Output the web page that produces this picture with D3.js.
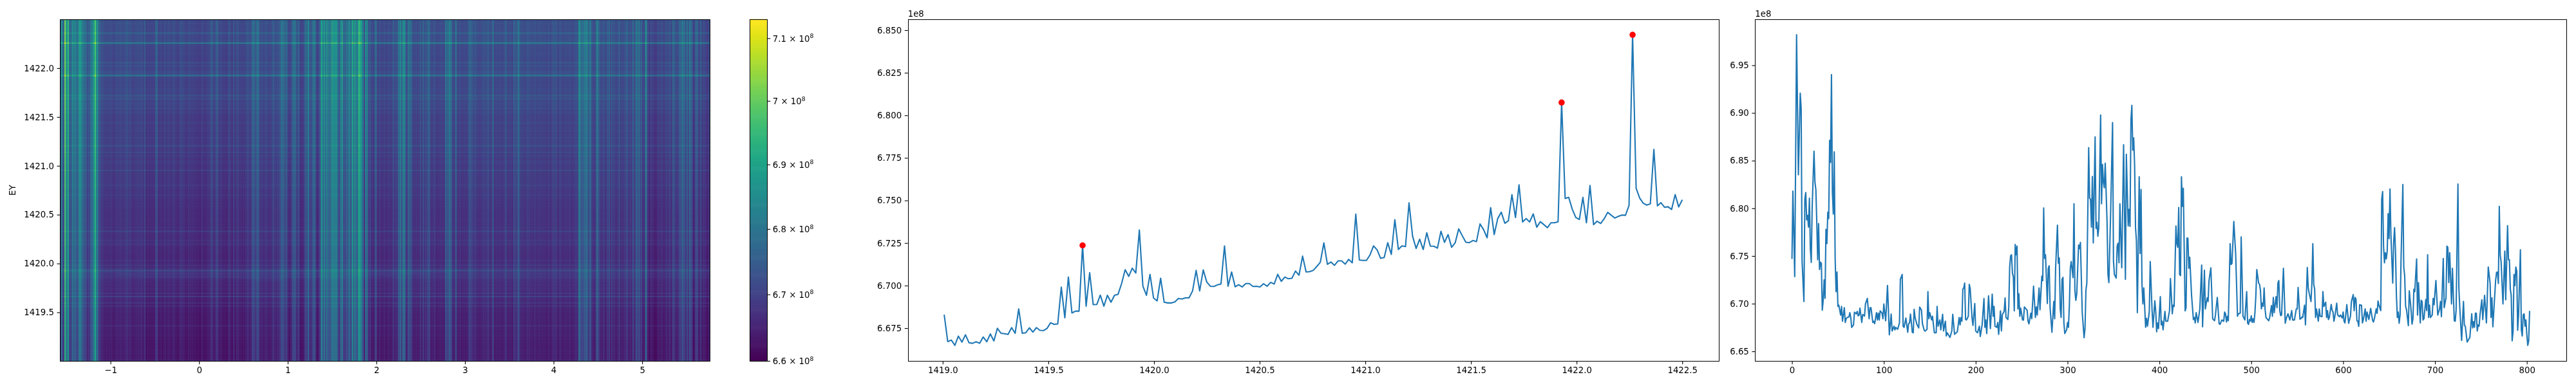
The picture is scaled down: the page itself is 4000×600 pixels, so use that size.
<!DOCTYPE html>
<html><head><meta charset="utf-8">
<script src="https://cdn.jsdelivr.net/npm/d3@7"></script>
<style>
html,body{margin:0;padding:0;background:#fff;width:4000px;height:600px;overflow:hidden}
#wrap{position:relative;width:4000px;height:600px}
canvas,svg{position:absolute;left:0;top:0}
text{font-family:"DejaVu Sans";font-size:13.3px;fill:#000}
</style></head><body><div id="wrap"></div>
<script>
// Values in units of 1e8
const rowValues=[
6.6829,6.6671,6.6680,6.6649,6.6703,6.6668,6.6711,6.6664,6.6661,6.6670,6.6661,6.6698,6.6670,6.6716,6.6675,6.6749,6.6720,6.6717,6.6713,6.6753,6.6720,6.6863,6.6720,6.6723,6.6752,
6.6727,6.6753,6.6737,6.6736,6.6749,6.6782,6.6772,6.6775,6.6991,6.6811,6.7050,6.6839,6.6850,6.6850,6.7236,6.6879,6.7076,6.6888,6.6889,6.6944,6.6879,6.6943,6.6902,6.6943,6.6949,6.7012,6.7093,6.7054,6.7102,6.7074,6.7326,6.6996,6.6943,6.7066,6.6927,6.6910,6.7043,6.6902,6.6898,6.6898,6.6904,6.6924,6.6921,6.6928,6.6928,6.6969,6.7089,6.6969,6.7092,6.7021,6.6996,6.6995,6.7004,6.7009,6.7233,6.6996,6.7080,6.6993,6.7005,6.6992,6.7012,6.7012,6.6995,6.6996,6.6992,6.7011,6.6996,6.7019,6.7009,6.7066,6.7025,6.7050,6.7040,6.7043,6.7085,6.7061,6.7173,6.7080,6.7082,6.7089,6.7112,6.7137,6.7251,6.7125,6.7138,6.7119,6.7145,6.7145,6.7126,6.7154,6.7134,
6.7420,6.7150,6.7148,6.7148,6.7180,6.7233,6.7210,6.7160,6.7165,6.7252,6.7183,6.7387,6.7212,6.7233,6.7229,6.7486,6.7290,6.7218,6.7272,6.7212,6.7310,6.7232,6.7231,6.7220,6.7319,6.7254,6.7299,6.7225,6.7251,6.7333,6.7293,6.7255,6.7252,6.7265,6.7258,6.7362,6.7329,6.7281,6.7458,6.7300,6.7394,6.7431,6.7366,6.7381,6.7534,6.7400,6.7592,6.7374,6.7394,6.7374,6.7421,6.7343,6.7375,6.7358,6.7340,6.7369,6.7369,6.7375,6.8075,6.7512,6.7518,6.7449,6.7400,6.7388,6.7518,6.7369,6.7588,6.7358,6.7378,6.7365,6.7393,6.7430,6.7413,6.7397,6.7407,6.7414,6.7413,6.7471,6.8473,6.7572,6.7514,
6.7484,6.7473,6.7480,6.7800,6.7468,6.7487,6.7460,6.7463,6.7447,6.7534,6.7462,6.7504];
const markedValues=[6.7236,6.8075,6.8473];
const columnPoints=[
[0,6.7469],[1,6.8181],[3,6.7283],[5,6.982],[7,6.8351],[9,6.9208],[10,6.9048],[11,6.7448],[13,6.7022],[14,6.8093],[15,6.8166],[16,6.7879],[17,6.7926],[18,6.7804],[19,6.8106],[20,6.7577],[21,6.7433],[22,6.8016],[24,6.8599],[25,6.8274],[26,6.8197],[27,6.7861],[28,6.7461],[29,6.7840],[30,6.7358],[31,6.7435],[32,6.7422],[33,6.6932],[34,6.7035],[35,6.7249],[36,6.7056],[37,6.7779],[38,6.7629],[39,6.7959],[40,6.7892],[41,6.8713],[42,6.8481],[43,6.9402],[44,6.8171],[45,6.7939],[46,6.8592],[47,6.7474],[48,6.7126],[49,6.7332],[50,6.6971],[51,6.6984],[53,6.6880],[54,6.6971],[55,6.6816],[57,6.6958],[58,6.6803],[59,6.6842],[60,6.6855],[62,6.6860],[63,6.6906],[64,6.6855],[65,6.6751],[67,6.6777],[68,6.6911],[70,6.6893],[71,6.6919],[72,6.6873],[73,6.6880],[74,6.6953],[76,6.6803],[77,6.6886],[79,6.6870],[80,6.6996],[82,6.7056],[84,6.6842],[85,6.6958],[86,6.6958],[88,6.6803],[89,6.6816],[90,6.6790],[92,6.6906],[93,6.6829],[94,6.6901],[95,6.6829],[96,6.6924],[98,6.6901],[99,6.6842],[100,6.6996],[102,6.6821],[104,6.7190],[106,6.6674],[108,6.6891],[109,6.6713],[111,6.6764],[112,6.6725],[113,6.6751],[115,6.6731],[117,6.6798],[118,6.7255],[120,6.7306],[121,6.6764],[122,6.6751],[124,6.6849],[126,6.6700],[127,6.6790],[128,6.6798],[129,6.6891],[131,6.6700],[132,6.6695],[133,6.6940],[134,6.6855],[136,6.6782],[138,6.6746],[139,6.6965],[141,6.6932],[142,6.6790],[144,6.6720],[145,6.6713],[147,6.6731],[148,6.7126],[149,6.6842],[150,6.6906],[152,6.6829],
[153,6.6868],[154,6.6777],[155,6.6695],[157,6.6695],[158,6.6971],[159,6.6764],[161,6.6829],[162,6.6726],[164,6.6888],[165,6.6713],[167,6.6816],[168,6.6661],[169,6.6695],[172,6.6646],[174,6.6713],[175,6.6888],[177,6.6679],[180,6.6705],[182,6.6855],[183,6.6777],[184,6.6855],[185,6.6816],[186,6.7152],[187,6.7165],[188,6.7216],[189,6.6834],[190,6.6829],[192,6.6868],[193,6.7203],[194,6.7159],[196,6.6855],[197,6.6772],[199,6.7002],[200,6.6713],[202,6.6695],[204,6.6764],[205,6.6656],[207,6.6777],[209,6.7054],[210,6.6752],[211,6.6829],[212,6.6687],[214,6.7082],[216,6.6739],[218,6.7100],[219,6.6868],[220,6.6971],[221,6.6764],[223,6.6752],[224,6.6803],[225,6.6679],[227,6.6924],[228,6.6713],[229,6.6886],[231,6.6919],[232,6.7061],[233,6.6855],[235,6.6834],[236,6.6958],[237,6.7384],[238,6.7500],[239,6.7513],[240,6.7319],[241,6.7281],[242,6.6924],[243,6.7621],[244,6.7513],[245,6.7603],[246,6.6945],[247,6.7105],[248,6.6868],[249,6.6953],[251,6.6829],[252,6.6829],[253,6.6966],[256,6.6932],[257,6.6816],[258,6.6788],[260,6.6901],[261,6.6842],[263,6.7183],[265,6.6855],[266,6.6966],[267,6.6881],[269,6.7165],[270,6.6937],[272,6.7288],[273,6.7242],[274,6.8003],[275,6.7474],[276,6.7513],[278,6.7002],[279,6.7371],[280,6.7397],[281,6.6958],[283,6.6700],[285,6.7023],[286,6.6842],[287,6.7371],[289,6.7823],[290,6.7423],[291,6.7479],[292,6.6945],[293,6.6855],[294,6.7255],[295,6.7276],[296,6.6803],[297,6.6687],[299,6.6726],[300,6.6803],[301,6.6752],[302,6.6984],[303,6.7371],[304,6.7441],[306,6.7273],[307,6.8047],[308,6.7139],[309,6.7035],[310,6.7100],[312,6.7616],[313,6.7577],[314,6.7642],[316,6.6906],[318,6.6643],[319,6.6739],[320,6.7139],[321,6.7216],[323,6.8636],[324,6.8107],[325,6.8094],[326,6.7802],[327,6.8334],[328,6.7637],[330,6.8749],[331,6.7789],[332,6.7854],[333,6.7707],[334,6.7797],[336,6.8979],[337,6.8047],[338,6.8460],[339,6.8274],[340,6.8215],[341,6.8473],[343,6.7861],[344,6.7306],[345,6.7221],[347,6.7990],[349,6.8899],[350,6.7448],[351,6.7306],[353,6.7268],[354,6.7603],[355,6.7634],[356,6.7428],[357,6.8047],[359,6.7376],[361,6.8667],[363,6.7255],[364,6.8566],[366,6.7815],[367,6.7990],[368,6.7810],[369,6.8920],[370,6.9080],[371,6.8610],[372,6.8739],[373,6.8455],[374,6.7797],[375,6.7655],[376,6.6906],[378,6.8331],[379,6.7526],[380,6.8197],[381,6.7216],[382,6.6997],[383,6.7165],[385,6.6752],[386,6.6847],[387,6.6764],[389,6.6919],[390,6.7441],[392,6.6932],[393,6.6752],[395,6.7030],[396,6.6919],[397,6.6705],[398,6.6798],[399,6.6739],[401,6.7074],[402,6.6777],[403,6.6816],[404,6.6726],[406,6.6919],[407,6.6816],[409,6.6816],[411,6.6927],[412,6.7263],[413,6.7087],[414,6.6894],[415,6.6984],[416,6.6971],[418,6.7815],[419,6.7629],[420,6.7590],[421,6.8008],[422,6.7306],[423,6.7294],[424,6.8331],[425,6.8021],[426,6.8210],[427,6.7577],[428,6.6924],[429,6.6958],[430,6.7688],[431,6.7686],[432,6.7371],[433,6.7487],[435,6.7087],[437,6.6834],[438,6.6855],[439,6.6798],[440,6.6906],[442,6.6803],[444,6.6945],[446,6.7405],[447,6.6757],[449,6.7350],[450,6.6945],[452,6.7061],[453,6.7023],[454,6.7242],[456,6.7376],[458,6.6842],[460,6.6821],[461,6.6881],[463,6.7066],[465,6.6790],[466,6.6783],[468,6.6829],[470,6.6816],[471,6.6912],[472,6.6894],[473,6.6808],[474,6.6868],[475,6.6821],[477,6.7629],[478,6.7410],[479,6.7423],[481,6.7861],[483,6.7526],[485,6.6868],[486,6.6894],[488,6.6901],[489,6.7699],[491,6.6868],[493,6.6829],[495,6.7126],[496,6.6798],[497,6.6783],[498,6.6834],[499,6.6816],[500,6.6873],[501,6.6803],[502,6.6842],[503,6.6803],
[504,6.6906],[505,6.7087],[506,6.7358],[508,6.7216],[509,6.7203],[510,6.7139],[511,6.6945],[512,6.7005],[513,6.6971],[514,6.7165],[515,6.6945],[516,6.6855],[519,6.6821],[520,6.6855],[522,6.6979],[523,6.6868],[524,6.7066],[525,6.6906],[527,6.7074],[528,6.6958],[529,6.7216],[530,6.7242],[531,6.6932],[532,6.6875],[533,6.6881],[535,6.7371],[537,6.6795],[538,6.6842],[540,6.6894],[542,6.6829],[544,6.6927],[545,6.6829],[547,6.6829],[549,6.6945],[550,6.6945],[551,6.7170],[553,6.6837],[554,6.6842],[555,6.6860],[556,6.6855],[558,6.6984],[559,6.6777],[561,6.7379],[562,6.7165],[563,6.7113],[565,6.7023],[566,6.7216],[567,6.7629],[568,6.7203],[569,6.7152],[570,6.6855],[571,6.6945],[573,6.6816],[574,6.6945],[575,6.6868],[577,6.6863],[578,6.7126],[579,6.6971],[581,6.7015],[582,6.6855],[583,6.6927],[584,6.6834],[585,6.6855],[587,6.6992],[588,6.6932],[589,6.6912],[590,6.6816],[591,6.6868],[593,6.7005],[594,6.6881],[595,6.6873],[596,6.6863],[597,6.6881],[599,6.6850],[600,6.6912],[601,6.6816],[602,6.6798],[604,6.6989],[606,6.6795],[608,6.6868],[609,6.7023],[611,6.7095],[612,6.6927],[613,6.7066],[614,6.7048],[615,6.6821],[616,6.6816],[617,6.6762],[618,6.6989],[620,6.6984],[621,6.6798],[622,6.6834],[624,6.6945],[625,6.6816],[626,6.6912],[628,6.6834],[630,6.6950],[632,6.6829],[633,6.6808],[634,6.6842],[636,6.6945],[637,6.6899],[638,6.7028],[639,6.6984],[641,6.6927],[642,6.8094],[643,6.8176],[644,6.7603],[645,6.7428],[646,6.7534],[647,6.7469],[648,6.7552],[649,6.7944],[650,6.7681],[651,6.8202],[652,6.7732],[654,6.7216],[655,6.7642],[656,6.7797],[657,6.7552],[658,6.7087],[659,6.6855],[660,6.6912],[661,6.6795],[662,6.6881],[663,6.7448],[665,6.8249],[666,6.7384],[667,6.7294],[668,6.6971],[669,6.6937],[671,6.6770],[672,6.7134],[674,6.6932],[675,6.6785],[676,6.6842],[677,6.7152],[678,6.7126],[680,6.7469],[681,6.6881],[682,6.7221],[684,6.6798],[685,6.7035],[686,6.7023],[687,6.6829],[688,6.6842],[690,6.7043],[691,6.6927],[692,6.7513],[693,6.6855],[694,6.6984],[695,6.6855],[697,6.6881],[698,6.7056],[699,6.6989],[701,6.7242],[703,6.6881],[705,6.6945],[706,6.7023],[707,6.6863],[709,6.7474],[710,6.6958],[712,6.7061],[713,6.7603],[714,6.7590],[715,6.7221],[716,6.7534],[718,6.6997],[719,6.7371],[721,6.6821],[722,6.6816],[723,6.6932],[725,6.8254],[726,6.7165],[727,6.6958],[729,6.6615],[731,6.7023],[732,6.6772],[733,6.6764],[735,6.6597],[738,6.6648],[740,6.6894],[741,6.6746],[742,6.6811],[743,6.6752],[744,6.6901],[745,6.6901],[746,6.6713],[747,6.6777],[748,6.6764],[749,6.6881],[751,6.7041],[752,6.6834],[754,6.7087],[756,6.6798],[758,6.7384],[760,6.7216],[761,6.6855],[762,6.7061],[763,6.6757],[764,6.6919],[766,6.7242],[767,6.7327],[768,6.7332],[769,6.7211],[770,6.8021],[771,6.7513],[772,6.7436],[774,6.6997],[776,6.7552],[777,6.7041],[779,6.7818],[780,6.7461],[781,6.7461],[782,6.7152],[783,6.7087],[784,6.6610],[785,6.6713],[786,6.7306],[787,6.7190],[788,6.7384],[789,6.7345],[790,6.6721],[791,6.6881],[793,6.7565],[794,6.6726],[795,6.6661],[796,6.6881],[797,6.6894],[798,6.6764],[799,6.6829],[800,6.6674],[801,6.6563],[802,6.6610],[803,6.6924]];
// Faint curved band in the heatmap: column index, EY position
const ridgeColumns=[48,68,96,129,186,219,239,275,352,372,414,455,481,507,564];
const ridgeEY=[1419.908,1419.901,1419.868,1419.857,1419.857,1419.857,1419.835,1419.824,1419.846,1419.864,1419.864,1419.89,1419.91,1419.92,1419.94];
const ridgeLift=0.007;
const heatXTicks=[-1,0,1,2,3,4,5];
const heatYTicks=[1419.5,1420,1420.5,1421,1421.5,1422];
const colorbarTicks=[6.6,6.7,6.8,6.9,7,7.1];
const rowXTicks=[1419,1419.5,1420,1420.5,1421,1421.5,1422,1422.5];
const rowYTicks=[6.675,6.7,6.725,6.75,6.775,6.8,6.825,6.85];
const colXTicks=[0,100,200,300,400,500,600,700,800];
const colYTicks=[6.65,6.7,6.75,6.8,6.85,6.9,6.95];
const yAxisLabel="EY", offsetLabel="1e8";
const eyFirst=1419.007, eyLast=1422.5, eyEdges=[1419,1422.5], colorDomain=[6.6,7.131];
const heatXDomain=[-1.568,5.758], columnCount=804;

const W=4000,H=600,topY=30,bottomY=561.4;
const wrap=d3.select("#wrap");
const canvas=wrap.append("canvas").attr("width",W).attr("height",H).node();
const svg=wrap.append("svg").attr("width",W).attr("height",H);
const eyValues=rowValues.map((_,i)=>eyFirst+i*(eyLast-eyFirst)/(rowValues.length-1));

// Heatmap: cells built from the two read profiles
const hx=d3.scaleLinear().domain(heatXDomain).range([93.4,1101.5]);
const hy=d3.scaleLinear().domain(eyEdges).range([bottomY,topY]);
const colX=d3.scaleLinear().domain([0,columnCount]).range(heatXDomain);
const color=d3.scaleSequentialLog(d3.interpolateViridis).domain(colorDomain).clamp(true);
const baseline=d3.mean(rowValues);
const ctx=canvas.getContext("2d");
const rowStep=(eyEdges[1]-eyEdges[0])/rowValues.length;
rowValues.forEach((rv,r)=>{
  const y0=Math.round(hy(eyEdges[0]+(r+1)*rowStep)),y1=Math.round(hy(eyEdges[0]+r*rowStep));
  const ey=eyEdges[0]+(r+.5)*rowStep;
  columnPoints.forEach((p,c)=>{
    const next=c<columnPoints.length-1?columnPoints[c+1][0]:columnCount;
    const x0=Math.round(hx(colX(p[0]))),x1=Math.round(hx(colX(next)));
    const k=Math.min(d3.bisectLeft(ridgeColumns,p[0]),ridgeEY.length-1);
    const lift=(ey>ridgeEY[k]&&ey<1419.96)?ridgeLift:0;
    ctx.fillStyle=color(rv+p[1]-baseline+lift);
    ctx.fillRect(x0,y0,Math.max(1,x1-x0),Math.max(1,y1-y0));
  });
});

function styleAxis(g){
  g.select(".domain").remove();
  g.selectAll(".tick line").attr("stroke","#000").attr("stroke-width",1.1);
}
function drawFrame(x0,x1,y0,y1){
  svg.append("rect").attr("x",Math.round(x0)+.5).attr("y",Math.round(y0)+.5).attr("width",Math.round(x1)-Math.round(x0)).attr("height",Math.round(y1)-Math.round(y0))
    .attr("fill","none").attr("stroke","#000").attr("stroke-width",1);
}
function axes(xs,ys,xt,yt,xf,yf){
  svg.append("g").attr("transform",`translate(0,${bottomY})`)
    .call(d3.axisBottom(xs).tickValues(xt).tickFormat(xf).tickSize(4.9).tickPadding(4.6)).call(styleAxis);
  svg.append("g").attr("transform",`translate(${xs.range()[0]},0)`)
    .call(d3.axisLeft(ys).tickValues(yt).tickFormat(yf).tickSize(4.9).tickPadding(4.6)).call(styleAxis);
  const [a,b]=xs.range();
  drawFrame(a,b,topY,bottomY);
}
const minus=d=>String(d).replace("-","\u2212");
axes(hx,hy,heatXTicks,heatYTicks,minus,d3.format(".1f"));
svg.append("text").attr("transform",`translate(24,${(topY+bottomY)/2}) rotate(-90)`).attr("text-anchor","middle").text(yAxisLabel);

// Colorbar
const cb=d3.scaleLog().domain(colorDomain).range([bottomY,topY]);
const cbSteps=d3.range(0,256).map(k=>cb.invert(bottomY+(topY-bottomY)*k/256));
const cbH=(bottomY-topY)/256;
svg.append("g").selectAll("rect").data(cbSteps).join("rect")
  .attr("x",1164.3).attr("width",27).attr("y",d=>cb(d)-cbH-0.3).attr("height",cbH+0.6).attr("fill",d=>color(d*(1+1e-6)));
drawFrame(1164.3,1191.3,topY,bottomY);
const cbT=svg.append("g").selectAll("g").data(colorbarTicks).join("g").attr("transform",d=>`translate(1191.3,${cb(d)})`);
cbT.append("line").attr("x2",4.9).attr("stroke","#000").attr("stroke-width",1.1);
const cbLabel=cbT.append("text").attr("x",8.5).attr("y",4.8);
cbLabel.append("tspan").text(d=>`${d} \u00d7 10`);
cbLabel.append("tspan").attr("dy",-5.5).style("font-size","9.3px").text("8");

// Row profile
const rx=d3.scaleLinear().domain([1418.835,1422.674]).range([1409.7,2669.3]);
const ry=d3.scaleLinear().domain([6.6556,6.8564]).range([bottomY,topY]);
svg.append("path").attr("fill","none").attr("stroke","#1f77b4").attr("stroke-width",2.08).attr("stroke-linejoin","round")
  .attr("d",d3.line().x((d,i)=>rx(eyValues[i])).y(d=>ry(d))(rowValues));
svg.append("g").selectAll("circle").data(markedValues).join("circle")
  .attr("cx",d=>rx(eyValues[rowValues.indexOf(d)])).attr("cy",d=>ry(d)).attr("r",4.8).attr("fill","#ff0000");
axes(rx,ry,rowXTicks,rowYTicks,d3.format(".1f"),d3.format(".3f"));
svg.append("text").attr("x",1409.7).attr("y",26).text(offsetLabel);

// Column profile
const cx=d3.scaleLinear().domain([-40.15,843.2]).range([2725.3,3985.3]);
const cy=d3.scaleLinear().domain([6.6397,6.9982]).range([bottomY,topY]);
svg.append("path").attr("fill","none").attr("stroke","#1f77b4").attr("stroke-width",2.08).attr("stroke-linejoin","round")
  .attr("d",d3.line().x(d=>cx(d[0])).y(d=>cy(d[1]))(columnPoints));
axes(cx,cy,colXTicks,colYTicks,d3.format("d"),d3.format(".2f"));
svg.append("text").attr("x",2725.3).attr("y",26).text(offsetLabel);
svg.selectAll(".tick text").attr("font-family","DejaVu Sans").style("font-size","13.3px").attr("fill","#000");
</script></body></html>
